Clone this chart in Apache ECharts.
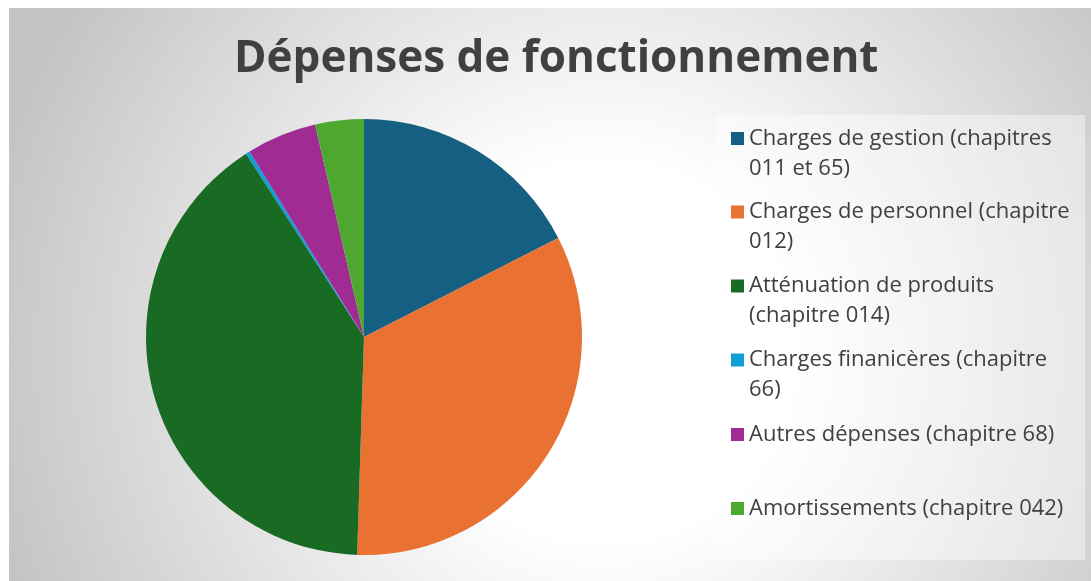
<!DOCTYPE html>
<html>
<head>
<meta charset="utf-8">
<script src="https://cdn.jsdelivr.net/npm/echarts@6/dist/echarts.min.js"></script>
<style>
  html, body { margin: 0; padding: 0; background: #fff; }
  #chart { width: 1091px; height: 581px; }
</style>
</head>
<body>
<div id="chart"></div>
<script>
const titleText = 'Dépenses de fonctionnement'
const categories = [
  'Charges de gestion (chapitres 011 et 65)',
  'Charges de personnel (chapitre 012)',
  'Atténuation de produits (chapitre 014)',
  'Charges finanicères (chapitre 66)',
  'Autres dépenses (chapitre 68)',
  'Amortissements (chapitre 042)'
]
// legend text as wrapped in the picture
const legendLines = [
  ['Charges de gestion (chapitres', '011 et 65)'],
  ['Charges de personnel (chapitre', '012)'],
  ['Atténuation de produits', '(chapitre 014)'],
  ['Charges finanicères (chapitre', '66)'],
  ['Autres dépenses (chapitre 68)'],
  ['Amortissements (chapitre 042)']
]
// share of each slice, in %
const values = [17.5, 33.0, 40.4, 0.3, 5.2, 3.6]
const colors = ['#156082', '#E97132', '#196B24', '#0F9ED5', '#A02B93', '#4EA72E']

const chart = echarts.init(document.getElementById('chart'))

// icon centres of each legend row
const rowCentres = [138.5, 212, 286, 360, 434.5, 508.5]
const lineH = 30

const legends = categories.map((name, i) => {
  const lines = legendLines[i]
  const twoLines = lines.length > 1
  return {
    data: [name],
    orient: 'vertical',
    left: 731,
    top: twoLines ? rowCentres[i] - lineH * 1.5 : rowCentres[i] - lineH / 2,
    padding: 0,
    icon: 'rect',
    itemWidth: 13,
    itemHeight: 13,
    selectedMode: false,
    // an empty first line keeps the first real line level with the square
    formatter: () => (twoLines ? ' \n' : '') + lines.join('\n'),
    textStyle: {
      fontFamily: 'Open Sans',
      fontSize: 22,
      lineHeight: lineH,
      color: '#404040'
    }
  }
})

chart.setOption({
  animation: false,
  color: colors,
  graphic: [
    {
      type: 'rect',
      shape: { x: 9, y: 8, width: 1082, height: 573 },
      style: {
        fill: new echarts.graphic.RadialGradient(0.55, 0.6, 1.1, [
          { offset: 0, color: '#ffffff' },
          { offset: 0.3, color: '#ffffff' },
          { offset: 1, color: '#c4c4c4' }
        ])
      },
      z: -10
    },
    {
      type: 'rect',
      shape: { x: 717, y: 115, width: 368, height: 445 },
      style: { fill: 'rgba(255,255,255,0.42)' },
      z: -9
    }
  ],
  title: {
    text: titleText,
    left: 229,
    top: 32,
    textStyle: {
      fontFamily: 'Open Sans',
      fontWeight: 'bold',
      fontSize: 44,
      color: '#404040'
    }
  },
  legend: legends,
  series: [{
    type: 'pie',
    center: [364, 337],
    radius: 218,
    startAngle: 90,
    clockwise: true,
    label: { show: false },
    labelLine: { show: false },
    itemStyle: { borderWidth: 0 },
    emphasis: { disabled: true },
    data: categories.map((name, i) => ({ name: name, value: values[i] }))
  }]
})
</script>
</body>
</html>
